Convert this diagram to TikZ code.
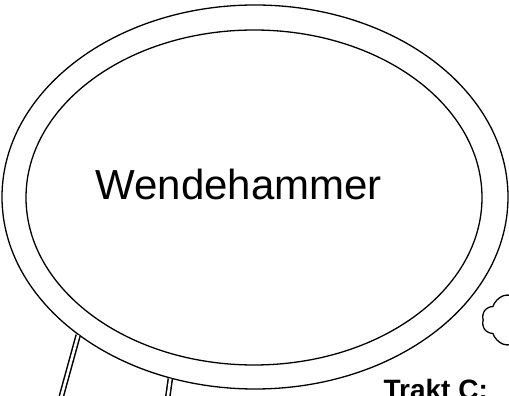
\documentclass[tikz,border=0pt]{standalone}
\usepackage{fontspec}
\setmainfont{Liberation Sans}
\usetikzlibrary{shapes.geometric,shapes.symbols,positioning}

\begin{document}
\begin{tikzpicture}[x=1pt,y=1pt,line width=1.3pt,
  ring/.style={ellipse,draw,inner sep=0pt},
  track/.style={double,double distance=2.6pt,line width=1.5pt},
  puff/.style={cloud,draw,cloud puffs=10,cloud puff arc=110,aspect=1.5,inner sep=0pt,minimum width=104pt,minimum height=60pt}]
  \useasboundingbox (0,0) rectangle (509,396);
  \clip (0,0) rectangle (509,396);
  % turning circle
  \node[ring, minimum width=506pt, minimum height=384pt] (outer) at (255,199) {};
  \node[ring, minimum width=456pt, minimum height=335pt] (inner) at (254,198.5) {};
  \node[anchor=base west, inner sep=0pt, font=\fontsize{42}{50}\selectfont] (name) at (95,196) {Wendehammer};
  % access roads
  \coordinate (a1) at (57.6,-14);
  \coordinate (a2) at (166,-14);
  \draw[track] (outer.218) -- (a1);
  \draw[track] (outer.245.7) -- (a2);
  % cloud and label
  \node[puff] (tree) at (534,76) {};
  \node[anchor=base west, inner sep=0pt, font=\bfseries\fontsize{28}{32}\selectfont] (trakt) at (383,-4) {Trakt C:};
\end{tikzpicture}
\end{document}
